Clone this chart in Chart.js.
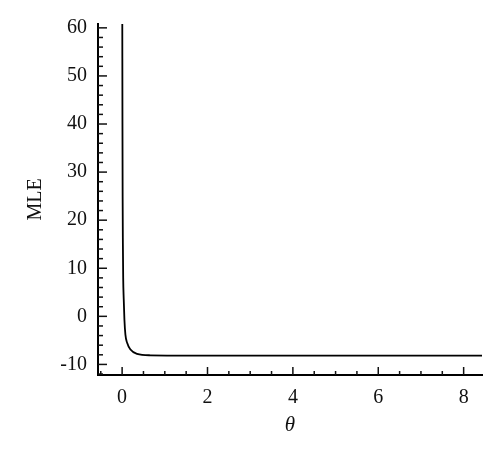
<!DOCTYPE html>
<html>
<head>
<meta charset="utf-8">
<script src="https://cdn.jsdelivr.net/npm/chart.js@4.4.1/dist/chart.umd.min.js"></script>
<style>
  html, body { margin: 0; padding: 0; background: #fff; }
  #wrap { width: 500px; height: 455px; }
</style>
</head>
<body>
<div id="wrap"><canvas id="chart"></canvas></div>
<script>
// Curve (theta, MLE)
const thetaValues = [0.004, 0.008, 0.012, 0.018, 0.025, 0.038, 0.054, 0.077, 0.117, 0.195, 0.35, 0.66, 1.6, 8.45];
const mleValues   = [60.8,  40,    25,    15,    8,     3.5,   -0.7,  -3.8,  -5.5,  -6.9,  -7.8, -8.1, -8.15, -8.15];

// Labelled tick values
const xTickValues = [0, 2, 4, 6, 8];
const yTickValues = [-10, 0, 10, 20, 30, 40, 50, 60];

const points = thetaValues.map((t, i) => ({ x: t, y: mleValues[i] }));

// Ticks drawn inward from the axis lines, major + minor
const innerTicks = {
  id: 'innerTicks',
  afterDraw(chart) {
    const { ctx, chartArea: a, scales: { x, y } } = chart;
    ctx.save();
    ctx.strokeStyle = '#111';
    ctx.lineWidth = 1.5;
    for (let i = -1; i <= 16; i++) {
      const v = i * 0.5;
      if (v < x.min || v > x.max) continue;
      const px = x.getPixelForValue(v);
      const len = xTickValues.includes(v) ? 8 : 4;
      ctx.beginPath();
      ctx.moveTo(px, a.bottom);
      ctx.lineTo(px, a.bottom - len);
      ctx.stroke();
    }
    for (let v = -12; v <= 60; v += 2) {
      if (v < y.min || v > y.max) continue;
      const py = y.getPixelForValue(v);
      const len = yTickValues.includes(v) ? 9 : 5;
      ctx.beginPath();
      ctx.moveTo(a.left, py);
      ctx.lineTo(a.left + len, py);
      ctx.stroke();
    }
    ctx.restore();
  }
};

const serif = "'Liberation Serif', 'DejaVu Serif', serif";

new Chart(document.getElementById('chart'), {
  type: 'line',
  data: {
    datasets: [{
      data: points,
      borderColor: '#000',
      borderWidth: 1.8,
      pointRadius: 0,
      tension: 0.4,
      cubicInterpolationMode: 'monotone',
      fill: false
    }]
  },
  options: {
    responsive: true,
    maintainAspectRatio: false,
    animation: false,
    layout: { padding: { top: 24, right: 18, bottom: 0, left: 0 } },
    plugins: { legend: { display: false }, tooltip: { enabled: false } },
    scales: {
      x: {
        type: 'linear',
        min: -0.565,
        max: 8.43,
        grid: { display: false, drawTicks: false },
        border: { display: true, color: '#000', width: 2 },
        afterBuildTicks: s => { s.ticks = xTickValues.map(v => ({ value: v })); },
        afterFit: s => { s.height = 80; },
        ticks: { color: '#111', padding: 11, font: { family: serif, size: 20 } },
        title: {
          display: true,
          text: 'θ',
          color: '#111',
          padding: { top: 0, bottom: 17 },
          font: { family: serif, size: 21, style: 'italic' }
        }
      },
      y: {
        type: 'linear',
        min: -12.2,
        max: 60.8,
        grid: { display: false, drawTicks: false },
        border: { display: true, color: '#000', width: 2 },
        afterBuildTicks: s => { s.ticks = yTickValues.map(v => ({ value: v })); },
        afterFit: s => { s.width = 98; },
        ticks: { color: '#111', padding: 11, font: { family: serif, size: 20 } },
        title: {
          display: true,
          text: 'MLE',
          color: '#111',
          padding: { top: 24, bottom: 0 },
          font: { family: serif, size: 20 }
        }
      }
    }
  },
  plugins: [innerTicks]
});
</script>
</body>
</html>
